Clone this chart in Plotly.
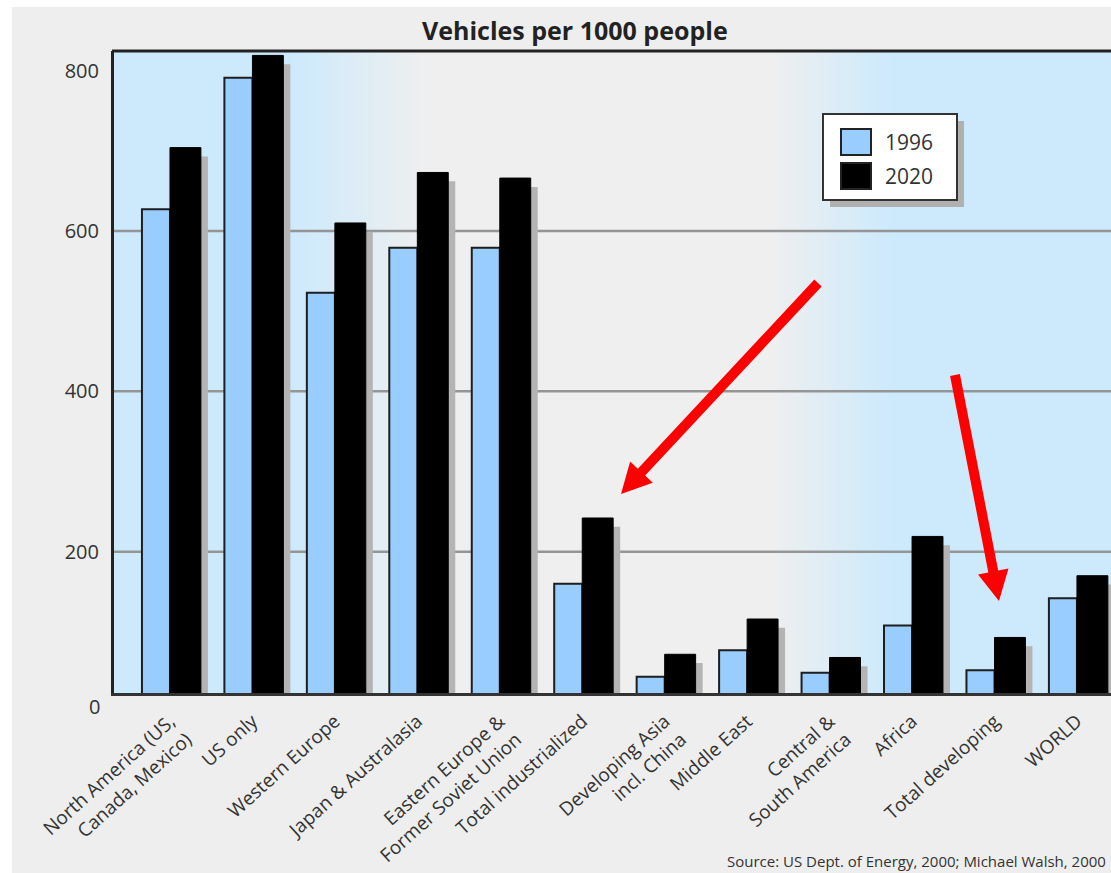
import math
import plotly.graph_objects as go

# ---- data -------------------------------------------------------------
categories = [
    "North America (US,<br>Canada, Mexico)",
    "US only",
    "Western Europe",
    "Japan & Australasia",
    "Eastern Europe &<br>Former Soviet Union",
    "Total industrialized",
    "Developing Asia<br>incl. China",
    "Middle East",
    "Central &<br>South America",
    "Africa",
    "Total developing",
    "WORLD",
]
series_names = ["1996", "2020"]
vehicles_1996 = [627, 791, 523, 579, 579, 160, 44, 77, 49, 108, 52, 142]
vehicles_2020 = [704, 819, 610, 673, 666, 242, 72, 116, 68, 219, 93, 170]
y_ticks = [200, 400, 600, 800]
grid_values = [200, 400, 600]

title_text = "Vehicles per 1000 people"
source_text = "Source: US Dept. of Energy, 2000; Michael Walsh, 2000"

# ---- geometry ---------------------------------------------------------
W, H = 1111, 873
ML, MR, MT, MB = 114, 0, 51, 180
PW, PH = W - ML - MR, H - MT - MB


def fx(px):
    return (px - ML) / PW


def fy(py):
    return (H - MB - py) / PH


BLUE = "#99ccff"
BG_BLUE = (205, 234, 252)
BG_GRAY = (239, 239, 239)
FONT = "Open Sans, Noto Sans, sans-serif"
TXT = "#333333"

xs = list(range(len(categories)))
shadow_vals = [v - 11 for v in vehicles_2020]

fig = go.Figure()

# drop shadow behind the 2020 bars
fig.add_trace(go.Bar(
    x=xs, y=shadow_vals, offset=0.085, width=0.375,
    marker=dict(color="#b4b4b4", line=dict(width=0)),
    showlegend=False, hoverinfo="skip",
))
fig.add_trace(go.Bar(
    x=xs, y=vehicles_1996, name=series_names[0], offset=-0.34, width=0.34,
    marker=dict(color=BLUE, line=dict(color="#1e1e1e", width=2)),
    showlegend=False,
))
fig.add_trace(go.Bar(
    x=xs, y=vehicles_2020, name=series_names[1], offset=0.0, width=0.375,
    marker=dict(color="#000000", line=dict(color="#000000", width=1)),
    showlegend=False,
))

shapes = []


def mix(c1, c2, t):
    return "rgb(%d,%d,%d)" % tuple(round(a + (b - a) * t) for a, b in zip(c1, c2))


# page frame: white edge strips
shapes.append(dict(type="rect", xref="paper", yref="paper", layer="below",
                   x0=fx(0), x1=fx(W), y0=fy(0), y1=fy(7),
                   fillcolor="white", line=dict(width=0)))
shapes.append(dict(type="rect", xref="paper", yref="paper", layer="below",
                   x0=fx(0), x1=fx(12), y0=fy(0), y1=fy(H),
                   fillcolor="white", line=dict(width=0)))

# plot background: blue on both sides, grey in the middle
shapes.append(dict(type="rect", xref="paper", yref="paper", layer="below",
                   x0=0, x1=fx(292), y0=0, y1=1,
                   fillcolor=mix(BG_BLUE, BG_BLUE, 0), line=dict(width=0)))
shapes.append(dict(type="rect", xref="paper", yref="paper", layer="below",
                   x0=fx(428), x1=fx(772), y0=0, y1=1,
                   fillcolor=mix(BG_GRAY, BG_GRAY, 0), line=dict(width=0)))
shapes.append(dict(type="rect", xref="paper", yref="paper", layer="below",
                   x0=fx(888), x1=1, y0=0, y1=1,
                   fillcolor=mix(BG_BLUE, BG_BLUE, 0), line=dict(width=0)))
step = 4
for a, b, c0, c1 in [(290, 430, BG_BLUE, BG_GRAY), (770, 890, BG_GRAY, BG_BLUE)]:
    p = a
    while p < b:
        t = (p - a + step / 2) / (b - a)
        shapes.append(dict(type="rect", xref="paper", yref="paper", layer="below",
                           x0=fx(p), x1=fx(min(p + step + 0.5, b)), y0=0, y1=1,
                           fillcolor=mix(c0, c1, t), line=dict(width=0)))
        p += step

# horizontal grid lines
for g in grid_values:
    shapes.append(dict(type="line", xref="paper", yref="y", layer="below",
                       x0=0, x1=1, y0=g, y1=g,
                       line=dict(color="#959595", width=2.5)))

# top frame line
shapes.append(dict(type="line", xref="paper", yref="paper",
                   x0=-0.002, x1=1, y0=1, y1=1,
                   line=dict(color="#222222", width=3)))


# red call-out arrows
def arrow_path(tail, tip, half_w=5.0, head_len=30.0, head_half=15.5):
    dx, dy = tip[0] - tail[0], tip[1] - tail[1]
    n = math.hypot(dx, dy)
    ux, uy = dx / n, dy / n
    nx, ny = -uy, ux
    bx, by = tip[0] - ux * head_len, tip[1] - uy * head_len
    pts = [
        (tail[0] + nx * half_w, tail[1] + ny * half_w),
        (bx + nx * half_w, by + ny * half_w),
        (bx + nx * head_half, by + ny * head_half),
        tip,
        (bx - nx * head_half, by - ny * head_half),
        (bx - nx * half_w, by - ny * half_w),
        (tail[0] - nx * half_w, tail[1] - ny * half_w),
    ]
    return "M " + " L ".join("%.5f,%.5f" % (fx(px), fy(py)) for px, py in pts) + " Z"


for tail, tip in [((818, 283), (621, 494)), ((955, 375), (999, 601))]:
    shapes.append(dict(type="path", xref="paper", yref="paper",
                       path=arrow_path(tail, tip),
                       fillcolor="#ff0000", line=dict(width=0)))

# legend box
shapes.append(dict(type="rect", xref="paper", yref="paper",
                   x0=fx(830), x1=fx(964), y0=fy(121), y1=fy(207),
                   fillcolor="#b0b0b0", line=dict(width=0)))
shapes.append(dict(type="rect", xref="paper", yref="paper",
                   x0=fx(823), x1=fx(957), y0=fy(114), y1=fy(200),
                   fillcolor="white", line=dict(color="#333333", width=2)))
swatch_colors = [BLUE, "#000000"]
row_y = [142, 176]
annotations = []
for name, col, ry in zip(series_names, swatch_colors, row_y):
    shapes.append(dict(type="rect", xref="paper", yref="paper",
                       x0=fx(841), x1=fx(871), y0=fy(ry - 13), y1=fy(ry + 13),
                       fillcolor=col, line=dict(color="#222222", width=2)))
    annotations.append(dict(xref="paper", yref="paper", x=fx(883), y=fy(ry),
                            xanchor="left", yanchor="middle", showarrow=False,
                            text=name, font=dict(family=FONT, size=21, color=TXT)))

# title, zero label and source line
annotations.append(dict(xref="paper", yref="paper", x=fx(575), y=fy(30),
                        xanchor="center", yanchor="middle", showarrow=False,
                        text="<b>" + title_text + "</b>",
                        font=dict(family=FONT, size=25, color="#222222")))
annotations.append(dict(xref="paper", yref="paper", x=fx(102), y=fy(707),
                        xanchor="right", yanchor="middle", showarrow=False,
                        text="0", font=dict(family=FONT, size=20, color=TXT)))
annotations.append(dict(xref="paper", yref="paper", x=fx(1108), y=fy(861),
                        xanchor="right", yanchor="middle", showarrow=False,
                        text=source_text, font=dict(family=FONT, size=15, color=TXT)))

fig.update_layout(
    width=W, height=H,
    margin=dict(l=ML, r=MR, t=MT, b=MB, pad=0),
    paper_bgcolor="#eeeeee",
    plot_bgcolor="rgba(0,0,0,0)",
    barmode="overlay",
    showlegend=False,
    shapes=shapes,
    annotations=annotations,
    font=dict(family=FONT, color=TXT),
    xaxis=dict(
        range=[-0.679, 11.413], tickmode="array", tickvals=xs, ticktext=categories,
        tickangle=-42, tickfont=dict(size=19, color=TXT),
        ticks="outside", ticklen=7, tickcolor="rgba(0,0,0,0)",
        showgrid=False, zeroline=False,
        showline=True, linecolor="#333333", linewidth=2.5,
    ),
    yaxis=dict(
        range=[23.7, 824.5], tickmode="array", tickvals=y_ticks,
        tickfont=dict(size=20, color=TXT),
        ticks="outside", ticklen=8, tickcolor="rgba(0,0,0,0)",
        showgrid=False, zeroline=False,
        showline=True, linecolor="#222222", linewidth=3,
    ),
)

fig.write_html("out.html")
